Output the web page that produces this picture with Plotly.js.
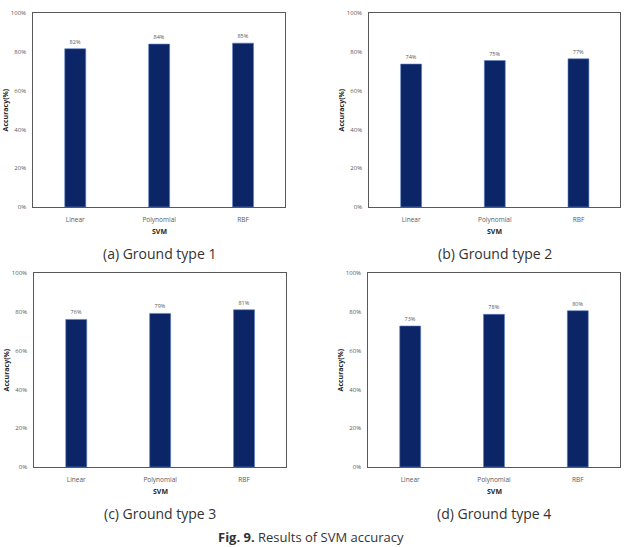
<!DOCTYPE html>
<html>
<head>
<meta charset="utf-8">
<script src="https://cdn.plot.ly/plotly-3.0.1.min.js"></script>
<style>html,body{margin:0;padding:0;background:#fff;}#chart{width:630px;height:547px;}</style>
</head>
<body>
<div id="chart"></div>
<script>
const categories = ["Linear", "Polynomial", "RBF"];
const accType1 = [81.7, 84.1, 84.6];
const accType2 = [73.8, 75.6, 76.5];
const accType3 = [76.2, 79.3, 81.2];
const accType4 = [72.8, 78.8, 80.7];
const labelsType1 = ["82%", "84%", "85%"];
const labelsType2 = ["74%", "75%", "77%"];
const labelsType3 = ["76%", "79%", "81%"];
const labelsType4 = ["73%", "78%", "80%"];
const yTickVals = [0, 20, 40, 60, 80, 100];
const yTickText = ["0%", "20%", "40%", "60%", "80%", "100%"];
const captions = ["(a) Ground type 1", "(b) Ground type 2", "(c) Ground type 3", "(d) Ground type 4"];
const xTitle = "SVM";
const yTitle = "Accuracy(%)";

const W = 630, H = 547;
const panels = [
  {vals: accType1, labels: labelsType1, x: [33.3, 285], y: [13.3, 207]},
  {vals: accType2, labels: labelsType2, x: [369.3, 620.3], y: [13.3, 207]},
  {vals: accType3, labels: labelsType3, x: [34.3, 286], y: [273.3, 467]},
  {vals: accType4, labels: labelsType4, x: [368.3, 619.7], y: [273.3, 467]}
];

const FONT = "'Open Sans', 'Noto Sans', sans-serif";
const traces = [];
const layout = {
  width: W, height: H,
  margin: {l: 0, r: 0, t: 0, b: 0},
  paper_bgcolor: "#fff", plot_bgcolor: "#fff",
  showlegend: false,
  bargap: 0.75,
  font: {family: FONT, color: "#595959"},
  annotations: []
};

panels.forEach((p, i) => {
  const n = i + 1;
  const xa = n === 1 ? "x" : "x" + n;
  const ya = n === 1 ? "y" : "y" + n;
  traces.push({
    type: "bar", x: categories, y: p.vals, xaxis: xa, yaxis: ya,
    text: p.labels, textposition: "outside", cliponaxis: false, constraintext: "none",
    textfont: {size: 5.5, color: "#595959", family: FONT},
    marker: {color: "#0c2566", line: {color: "#5b7fc4", width: 0.6}},
    hoverinfo: "none"
  });
  const xd = [p.x[0] / W, p.x[1] / W];
  const yd = [1 - p.y[1] / H, 1 - p.y[0] / H];
  layout["xaxis" + (n === 1 ? "" : n)] = {
    domain: xd, anchor: ya, showline: true, mirror: true, linecolor: "#595959", linewidth: 1,
    showgrid: false, zeroline: false, ticks: "outside", ticklen: 6, tickcolor: "rgba(0,0,0,0)",
    tickfont: {size: 6.5, color: "#595959", family: FONT}, fixedrange: true
  };
  layout["yaxis" + (n === 1 ? "" : n)] = {
    domain: yd, anchor: xa, range: [0, 100], showline: true, mirror: true, linecolor: "#595959", linewidth: 1,
    showgrid: false, zeroline: false, tickvals: yTickVals, ticktext: yTickText,
    ticks: "outside", ticklen: 5, tickcolor: "rgba(0,0,0,0)",
    tickfont: {size: 6, color: "#595959", family: FONT}, fixedrange: true
  };
  const cx = (p.x[0] + p.x[1]) / 2 / W;
  layout.annotations.push({
    xref: "paper", yref: "paper", x: cx, y: 1 - (p.y[1] + 24) / H,
    text: "<b>" + xTitle + "</b>", showarrow: false, xanchor: "center", yanchor: "middle",
    font: {size: 7, color: "#262626", family: FONT}
  });
  layout.annotations.push({
    xref: "paper", yref: "paper", x: (p.x[0] - 28) / W, y: (yd[0] + yd[1]) / 2,
    text: "<b>" + yTitle + "</b>", showarrow: false, textangle: -90, xanchor: "center", yanchor: "middle",
    font: {size: 7, color: "#262626", family: FONT}
  });
  layout.annotations.push({
    xref: "paper", yref: "paper", x: cx, y: 1 - (p.y[1] + 46) / H,
    text: captions[i], showarrow: false, xanchor: "center", yanchor: "middle",
    font: {size: 14, color: "#333333", family: FONT}
  });
});

layout.annotations.push({
  xref: "paper", yref: "paper", x: 311 / W, y: 1 - 537 / H,
  text: "<b>Fig. 9.</b> Results of SVM accuracy", showarrow: false, xanchor: "center", yanchor: "middle",
  font: {size: 13, color: "#333333", family: FONT}
});

Plotly.newPlot("chart", traces, layout, {displayModeBar: false, staticPlot: true});
</script>
</body>
</html>
